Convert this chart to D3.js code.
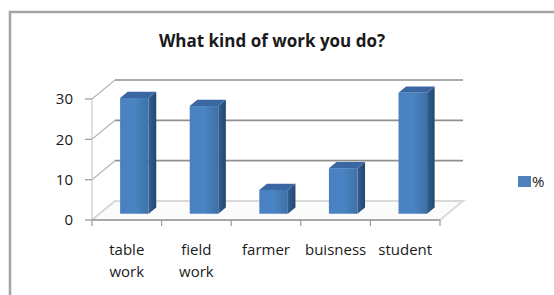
<!DOCTYPE html>
<html>
<head>
<meta charset="utf-8">
<script src="https://cdn.jsdelivr.net/npm/d3@7"></script>
<style>
  html, body { margin: 0; padding: 0; background: #fff; }
  svg { display: block; font-family: "Open Sans", "DejaVu Sans", sans-serif; }
</style>
</head>
<body>
<div id="chart"></div>
<script>
// chart data
const title = 'What kind of work you do?';
const categories = ['table work', 'field work', 'farmer', 'buisness', 'student'];
const values = [28.7, 26.7, 5.9, 11.3, 30];
const yTicks = [0, 10, 20, 30];
const seriesName = '%';

const W = 554, H = 295;
// 3d depth offset of the back wall relative to the front edge
const DX = 23, DY = -19;
const d0 = 0.33, d1 = 0.66; // bar front / back depth

const svg = d3.select('#chart').append('svg')
  .attr('width', W).attr('height', H);

const defs = svg.append('defs');
const gFront = defs.append('linearGradient').attr('id', 'front')
  .attr('x1', 0).attr('x2', 1).attr('y1', 0).attr('y2', 0);
gFront.append('stop').attr('offset', 0).attr('stop-color', '#4a80c2');
gFront.append('stop').attr('offset', 0.5).attr('stop-color', '#4a84c3');
gFront.append('stop').attr('offset', 1).attr('stop-color', '#3f71a7');
const gSide = defs.append('linearGradient').attr('id', 'side')
  .attr('x1', 0).attr('x2', 1).attr('y1', 0).attr('y2', 0);
gSide.append('stop').attr('offset', 0).attr('stop-color', '#315f91');
gSide.append('stop').attr('offset', 1).attr('stop-color', '#24486f');

// chart frame
svg.append('rect')
  .attr('x', 10).attr('y', 12).attr('width', 600).attr('height', 320)
  .attr('fill', '#fff').attr('stroke', '#a3a3a3').attr('stroke-width', 2.5);

svg.append('text')
  .attr('x', 272).attr('y', 47)
  .attr('text-anchor', 'middle')
  .attr('font-weight', 'bold').attr('font-size', 17)
  .attr('fill', '#1a1a1a')
  .text(title);

const x = d3.scaleBand().domain(categories).range([92, 440]);
const y = d3.scaleLinear().domain([0, 30]).range([220, 99]);
const x0 = x.range()[0], x1 = x.range()[1];

const proj = (px, py, d) => [px + d * DX, py + d * DY];
const line = d3.line();

// back wall gridlines
svg.append('g').selectAll('line')
  .data(yTicks.filter((t) => t > 0))
  .enter().append('line')
  .attr('x1', x0 + DX).attr('x2', x1 + DX)
  .attr('y1', (d) => y(d) + DY).attr('y2', (d) => y(d) + DY)
  .attr('stroke', '#8f8f8f').attr('stroke-width', 1.6);

// left wall diagonals
svg.append('g').selectAll('path')
  .data(yTicks)
  .enter().append('path')
  .attr('d', (d) => line([[x0, y(d)], proj(x0, y(d), 1)]))
  .attr('fill', 'none').attr('stroke', '#b8b8b8').attr('stroke-width', 1.3);

// floor
svg.append('path')
  .attr('d', line([[x0, y(0)], [x1, y(0)], proj(x1, y(0), 1), proj(x0, y(0), 1)]) + 'Z')
  .attr('fill', '#fbfbfb').attr('stroke', '#d9d9d9').attr('stroke-width', 2);

// bars
const bw = x.bandwidth() * 0.41;
const bars = svg.append('g').selectAll('g')
  .data(categories.map((c, i) => ({ c, v: values[i] })))
  .enter().append('g');

const fx = (d) => x(d.c) + (x.bandwidth() - bw) / 2;

bars.append('path') // side
  .attr('d', (d) => {
    const a = proj(fx(d) + bw, y(d.v), d0), b = proj(fx(d) + bw, y(d.v), d1);
    const c = proj(fx(d) + bw, y(0), d1), e = proj(fx(d) + bw, y(0), d0);
    return line([a, b, c, e]) + 'Z';
  })
  .attr('fill', 'url(#side)');

bars.append('path') // top
  .attr('d', (d) => {
    const a = proj(fx(d), y(d.v), d0), b = proj(fx(d) + bw, y(d.v), d0);
    const c = proj(fx(d) + bw, y(d.v), d1), e = proj(fx(d), y(d.v), d1);
    return line([a, b, c, e]) + 'Z';
  })
  .attr('fill', '#3a66a2');

bars.append('rect') // front
  .attr('x', (d) => proj(fx(d), 0, d0)[0])
  .attr('y', (d) => y(d.v) + d0 * DY)
  .attr('width', bw)
  .attr('height', (d) => y(0) - y(d.v))
  .attr('fill', 'url(#front)');

// front axes
svg.append('line')
  .attr('x1', x0).attr('x2', x0).attr('y1', y(30)).attr('y2', y(0))
  .attr('stroke', '#cfcfcf').attr('stroke-width', 1.3);
svg.append('line')
  .attr('x1', x0).attr('x2', x1).attr('y1', y(0)).attr('y2', y(0))
  .attr('stroke', '#a8a8a8').attr('stroke-width', 2);

const yAxis = svg.append('g');
yAxis.selectAll('line').data(yTicks).enter().append('line')
  .attr('x1', x0 - 7).attr('x2', x0).attr('y1', (d) => y(d)).attr('y2', (d) => y(d))
  .attr('stroke', '#a0a0a0').attr('stroke-width', 1.3);
yAxis.selectAll('text').data(yTicks).enter().append('text')
  .attr('x', 73).attr('y', (d) => y(d))
  .attr('dy', '0.36em').attr('text-anchor', 'end')
  .attr('font-size', 15).attr('fill', '#1a1a1a')
  .text((d) => d);

const xAxis = svg.append('g');
xAxis.selectAll('line').data(d3.range(categories.length + 1)).enter().append('line')
  .attr('x1', (i) => x0 + i * x.step()).attr('x2', (i) => x0 + i * x.step())
  .attr('y1', y(0)).attr('y2', y(0) + 6)
  .attr('stroke', '#a0a0a0').attr('stroke-width', 1.3);

const labels = xAxis.selectAll('text').data(categories).enter().append('text')
  .attr('text-anchor', 'middle')
  .attr('font-size', 15).attr('fill', '#1a1a1a');
labels.selectAll('tspan')
  .data((c) => c.split(' ').map((w) => ({ w, c })))
  .enter().append('tspan')
  .attr('x', (d) => x(d.c) + x.bandwidth() / 2)
  .attr('y', (d, i) => 255 + i * 22)
  .text((d) => d.w);

// legend
svg.append('rect')
  .attr('x', 518).attr('y', 176).attr('width', 13).attr('height', 11)
  .attr('fill', '#4f81bd');
svg.append('text')
  .attr('x', 532).attr('y', 182).attr('dy', '0.36em')
  .attr('font-size', 15).attr('fill', '#1a1a1a')
  .text(seriesName);
</script>
</body>
</html>
